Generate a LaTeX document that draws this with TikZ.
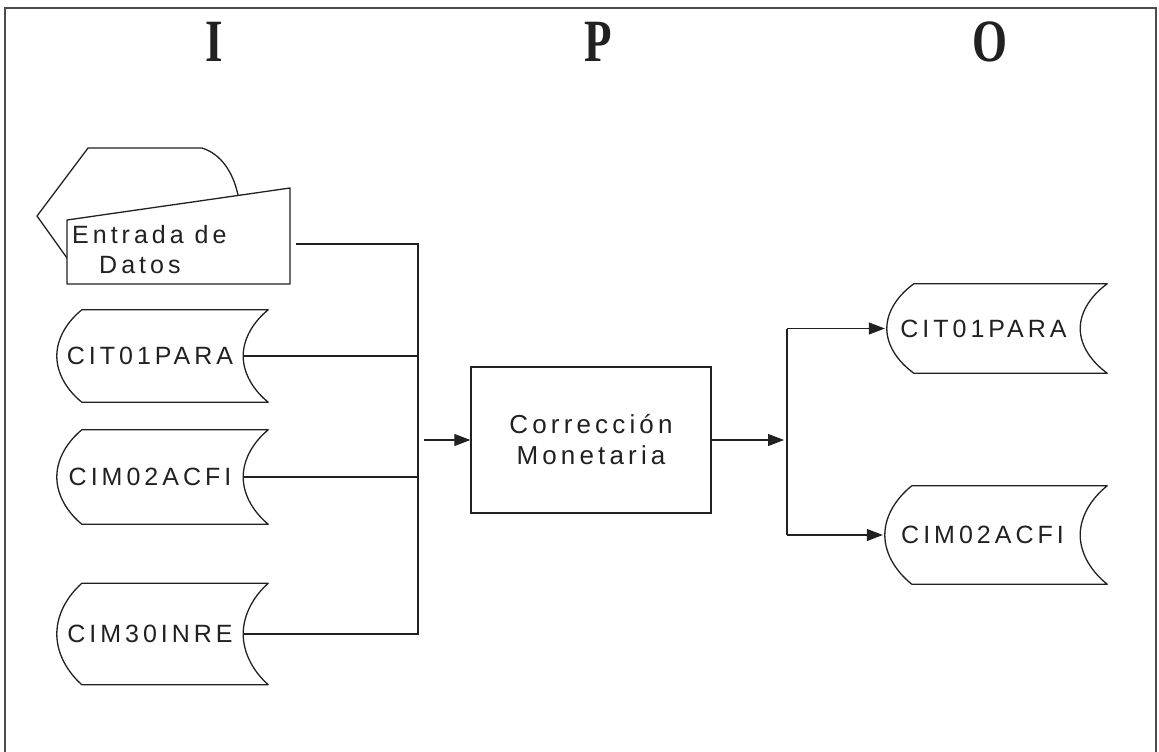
\documentclass[tikz,border=0pt]{standalone}
\usepackage{fontspec}
\setmainfont{Liberation Sans}
\newfontfamily\titlefont{Liberation Serif}
\newfontfamily\spacedfont[LetterSpace=16]{Liberation Sans}
\usepackage{graphicx}
\usetikzlibrary{arrows.meta,calc}
\definecolor{ink}{gray}{0.13}
\tikzset{
  shp/.style={draw=ink, line width=1.3pt, line join=round},
  conn/.style={draw=ink, line width=1.1pt},
  arr/.style={conn, -{Triangle[length=16pt,width=12pt]}},
  lbl/.style={font=\spacedfont\fontsize{25}{30}\selectfont, text=ink, inner sep=0pt},
  ttl/.style={font=\titlefont\bfseries\fontsize{60}{60}\selectfont, text=ink, inner sep=0pt},
  store/.style={lbl, minimum height=#1, minimum width=186pt, draw=none},
}
\newcommand\storagedraw[2]{%
  \draw[shp] let \p1=(#1.north west), \p2=(#1.south east) in
    ({\x1+#2},\y1) -- ({\x2+#2},\y1)
    .. controls ({\x2+0.45*#2},{\y1-0.12*(\y1-\y2)}) and (\x2,{\y1-0.3*(\y1-\y2)}) .. (\x2,{0.5*\y1+0.5*\y2})
    .. controls (\x2,{\y2+0.3*(\y1-\y2)}) and ({\x2+0.45*#2},{\y2+0.12*(\y1-\y2)}) .. ({\x2+#2},\y2)
    -- ({\x1+#2},\y2)
    .. controls ({\x1+0.45*#2},{\y2+0.12*(\y1-\y2)}) and (\x1,{\y2+0.3*(\y1-\y2)}) .. (\x1,{0.5*\y1+0.5*\y2})
    .. controls (\x1,{\y1-0.3*(\y1-\y2)}) and ({\x1+0.45*#2},{\y1-0.12*(\y1-\y2)}) .. cycle;
}
\begin{document}
\begin{tikzpicture}[x=1pt,y=-1pt]
\useasboundingbox (0,0) rectangle (1159,752);
% frame
\draw[gray!60!black, line width=1.6pt] (5,752) -- (5,8) -- (1156,8) -- (1156,752);
% titles
\node[ttl] (tI) at (214,42) {\scalebox{0.75}[1]{I}};
\node[ttl] (tP) at (598,42) {\scalebox{0.75}[1]{P}};
\node[ttl] (tO) at (990,42) {\scalebox{0.75}[1]{O}};
% Entrada de Datos
\draw[shp] (67,258) -- (37,216) -- (88,148) -- (202,148) .. controls (221,154) and (233,172) .. (238,195);
\draw[shp, fill=white] (67,220) -- (290,188) -- (290,284) -- (67,284) -- cycle;
\node[lbl, align=left, anchor=west] (edt) at (72,250) {Entrada de\\\hspace*{27pt}Datos};
\coordinate (edr) at (296,244);
% input storages
\node[store=92pt] (s1) at (150,356) {CIT01PARA};
\node[store=94pt] (s2) at (150,477) {CIM02ACFI};
\node[store=101pt] (s3) at (150,634) {CIM30INRE};
\storagedraw{s1}{25pt}
\storagedraw{s2}{25pt}
\storagedraw{s3}{25pt}
% process
\node[lbl, draw=ink, line width=1.3pt, minimum width=240pt, minimum height=146pt, align=center, font=\spacedfont\fontsize{26}{31}\selectfont] (p) at (591,440) {Corrección\\Monetaria};
% outputs
\node[store=89pt, minimum width=193pt] (o1) at (983.5,328.5) {CIT01PARA};
\node[store=98pt, minimum width=195pt] (o2) at (982.5,535) {CIM02ACFI};
\storagedraw{o1}{27pt}
\storagedraw{o2}{27pt}
% input bus
\coordinate (bt) at (418,244);
\draw[conn] (edr) -- (bt) -- (bt |- s3.east) -- (s3.east);
\draw[conn] (s1.east) -- (s1.east -| bt);
\draw[conn] (s2.east) -- (s2.east -| bt);
\coordinate (pin) at (424,440);
\draw[arr] (pin) -- (p.west);
% output bus
\coordinate (ob) at (787,440);
\draw[arr] (p.east) -- ($(ob)+(-3,0)$);
\draw[conn] (ob |- o1.west) -- (ob |- o2.west);
\draw[arr, shorten >=2pt] (ob |- o1.west) -- (o1.west);
\draw[arr, shorten >=2pt] (ob |- o2.west) -- (o2.west);
\end{tikzpicture}
\end{document}
